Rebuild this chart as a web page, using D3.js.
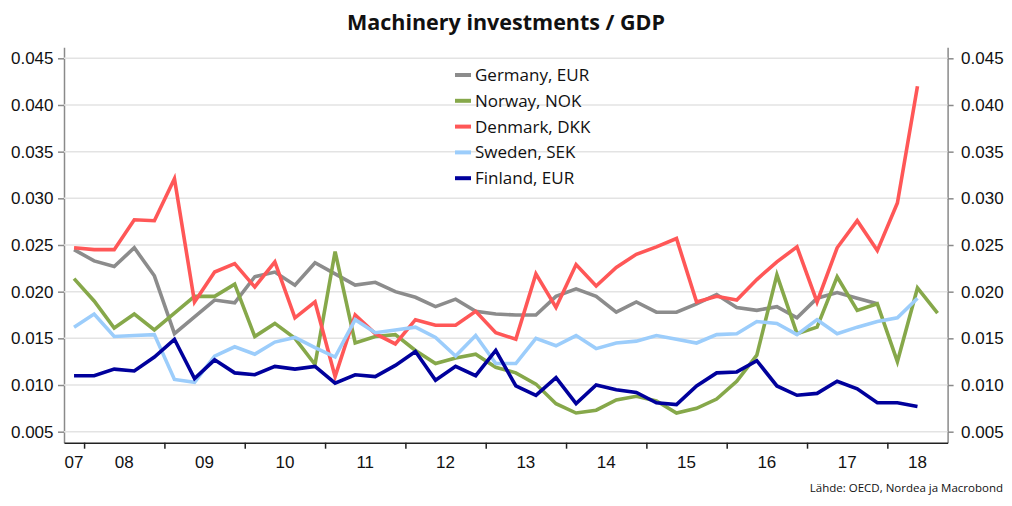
<!DOCTYPE html>
<html>
<head>
<meta charset="utf-8">
<script src="https://cdn.jsdelivr.net/npm/d3@7"></script>
<style>
  body { margin: 0; background: #fff; }
  svg { display: block; font-family: "Open Sans", sans-serif; }
  .grid line { stroke: #e3e3e3; stroke-width: 1.5px; }
  .axis--y path, .axis--y line { stroke: #8a8a8a; stroke-width: 1.5px; }
  .axis--x path, .axis--x line { stroke: #222; stroke-width: 1.5px; }
  .axis text { font-size: 17px; fill: #111; }
  .title { font-size: 21.5px; font-weight: 700; fill: #111; }
  .legend text { font-size: 17px; fill: #111; }
  .source { font-size: 11.5px; fill: #111; }
</style>
</head>
<body>
<svg id="chart" width="1012" height="506"></svg>
<script>
/* global d3 */
const WIDTH = 1012;
const HEIGHT = 506;
const MARGIN = { top: 47.3, bottom: 63.3, left: 64, right: 64.4 };
const FONT_SIZE = 17;

// first quarter on the chart is 2007 Q4, one value per quarter
const firstYear = 2007;
const firstQuarter = 4;
const yearLabels = ['07', '08', '09', '10', '11', '12', '13', '14', '15', '16', '17', '18'];
const yTicks = [0.005, 0.010, 0.015, 0.020, 0.025, 0.030, 0.035, 0.040, 0.045];

const germany = [0.0245, 0.0233, 0.0227, 0.0247, 0.0217, 0.0155, 0.0173, 0.0191, 0.0188, 0.0216,
  0.0221, 0.0207, 0.0231, 0.0219, 0.0207, 0.0210, 0.0200, 0.0194, 0.0184, 0.0192,
  0.0179, 0.0176, 0.0175, 0.0175, 0.0195, 0.0203, 0.0195, 0.0178, 0.0189, 0.0178,
  0.0178, 0.0187, 0.0197, 0.0183, 0.0180, 0.0184, 0.0172, 0.0193, 0.0199, 0.0193, 0.0187];
const norway = [0.0214, 0.0190, 0.0161, 0.0176, 0.0159, 0.0177, 0.0195, 0.0195, 0.0208, 0.0152,
  0.0166, 0.0150, 0.0122, 0.0243, 0.0145, 0.0152, 0.0154, 0.0137, 0.0123, 0.0129,
  0.0133, 0.0119, 0.0113, 0.0101, 0.0080, 0.0070, 0.0073, 0.0084, 0.0088, 0.0083,
  0.0070, 0.0075, 0.0085, 0.0104, 0.0132, 0.0218, 0.0155, 0.0162, 0.0216, 0.0180,
  0.0187, 0.0125, 0.0204, 0.0177];
const denmark = [0.0247, 0.0245, 0.0245, 0.0277, 0.0276, 0.0321, 0.0189, 0.0221, 0.0230, 0.0205,
  0.0232, 0.0172, 0.0189, 0.0109, 0.0175, 0.0155, 0.0144, 0.0170, 0.0164, 0.0164,
  0.0179, 0.0156, 0.0149, 0.0219, 0.0183, 0.0229, 0.0206, 0.0226, 0.0240, 0.0248,
  0.0257, 0.0189, 0.0195, 0.0191, 0.0213, 0.0232, 0.0248, 0.0189, 0.0247, 0.0276,
  0.0244, 0.0295, 0.0420];
const sweden = [0.0162, 0.0176, 0.0152, 0.0153, 0.0154, 0.0106, 0.0103, 0.0131, 0.0141, 0.0133,
  0.0146, 0.0151, 0.0140, 0.0130, 0.0170, 0.0156, 0.0159, 0.0162, 0.0151, 0.0131,
  0.0153, 0.0123, 0.0123, 0.0150, 0.0142, 0.0153, 0.0139, 0.0145, 0.0147, 0.0153,
  0.0149, 0.0145, 0.0154, 0.0155, 0.0168, 0.0166, 0.0154, 0.0170, 0.0155, 0.0162,
  0.0168, 0.0172, 0.0193];
const finland = [0.0110, 0.0110, 0.0117, 0.0115, 0.0130, 0.0149, 0.0107, 0.0127, 0.0113, 0.0111,
  0.0120, 0.0117, 0.0120, 0.0102, 0.0111, 0.0109, 0.0121, 0.0136, 0.0105, 0.0120,
  0.0110, 0.0137, 0.0099, 0.0089, 0.0108, 0.0080, 0.0100, 0.0095, 0.0092, 0.0081,
  0.0079, 0.0099, 0.0113, 0.0114, 0.0126, 0.0099, 0.0089, 0.0091, 0.0104, 0.0096,
  0.0081, 0.0081, 0.0077];

const seriesNames = ['Germany, EUR', 'Norway, NOK', 'Denmark, DKK', 'Sweden, SEK', 'Finland, EUR'];
const seriesValues = [germany, norway, denmark, sweden, finland];
const palette = [
  '#8c8c8c', // GREY - GERMANY
  '#86a84a', // OLIVE GREEN - NORWAY
  '#ff5757', // RED - DENMARK
  '#9ccdfb', // LIGHT BLUE - SWEDEN
  '#00009c'  // NAVY - FINLAND
];

const width = WIDTH - MARGIN.left - MARGIN.right;
const height = HEIGHT - MARGIN.top - MARGIN.bottom;

const $svg = d3.select('#chart');
const $gAxis = $svg.append('g').attr('class', 'g-axis');
const $gVis = $svg.append('g').attr('class', 'g-vis')
  .attr('transform', `translate(${MARGIN.left},${MARGIN.top})`);

// quarter i sits in the middle of its quarter on a decimal-year axis
function quarterTime(i) {
  const q = firstQuarter - 1 + i;
  return firstYear + q / 4 + 0.125;
}

const startTime = firstYear + (firstQuarter - 1) / 4;
const endTime = startTime + d3.max(seriesValues, s => s.length) / 4;

const scaleX = d3.scaleLinear().domain([startTime, endTime]).range([0, width]);
const scaleY = d3.scaleLinear().domain([0.00382, 0.04618]).range([height, 0]);
const scaleColour = d3.scaleOrdinal().domain(seriesNames).range(palette);

function drawAxes() {
  // gridlines
  $gVis.append('g')
    .attr('class', 'grid')
    .selectAll('line')
    .data(yTicks)
    .join('line')
    .attr('x1', 0)
    .attr('x2', width)
    .attr('y1', d => scaleY(d))
    .attr('y2', d => scaleY(d));

  const axisLeft = d3.axisLeft(scaleY)
    .tickValues(yTicks)
    .tickSize(6)
    .tickPadding(FONT_SIZE / 2 - 4)
    .tickSizeOuter(0)
    .tickFormat(d3.format('.3f'));

  $gAxis.append('g')
    .attr('class', 'axis axis--y')
    .attr('transform', `translate(${MARGIN.left},${MARGIN.top})`)
    .call(axisLeft);

  const axisRight = d3.axisRight(scaleY)
    .tickValues(yTicks)
    .tickSize(6)
    .tickPadding(FONT_SIZE / 2 - 1)
    .tickSizeOuter(0)
    .tickFormat(d3.format('.3f'));

  $gAxis.append('g')
    .attr('class', 'axis axis--y')
    .attr('transform', `translate(${MARGIN.left + width},${MARGIN.top})`)
    .call(axisRight);

  const yearStarts = d3.range(Math.ceil(startTime), Math.floor(endTime) + 1);

  const axisBottom = d3.axisBottom(scaleX)
    .tickValues(yearStarts)
    .tickSize(6)
    .tickSizeOuter(0)
    .tickFormat('');

  const $x = $gAxis.append('g')
    .attr('class', 'axis axis--x')
    .attr('transform', `translate(${MARGIN.left},${MARGIN.top + height})`)
    .call(axisBottom);

  // year labels sit in the middle of the visible part of each year
  $x.selectAll('text.year')
    .data(yearLabels)
    .join('text')
    .attr('class', 'year')
    .attr('x', (d, i) => {
      const y0 = Math.max(firstYear + i, startTime);
      const y1 = Math.min(firstYear + i + 1, endTime);
      return scaleX((y0 + y1) / 2);
    })
    .attr('y', 25)
    .attr('text-anchor', 'middle')
    .text(d => d);
}

function drawLines() {
  const line = d3.line()
    .x((d, i) => scaleX(quarterTime(i)))
    .y(d => scaleY(d));

  $gVis.selectAll('path.series')
    .data(seriesNames)
    .join('path')
    .attr('class', 'series')
    .attr('fill', 'none')
    .attr('stroke', d => scaleColour(d))
    .attr('stroke-width', 3.6)
    .attr('stroke-linejoin', 'miter')
    .attr('d', (d, i) => line(seriesValues[i]));
}

function drawText() {
  //TITLE
  $svg.append('text')
    .attr('class', 'title')
    .attr('x', WIDTH / 2)
    .attr('y', 30)
    .attr('text-anchor', 'middle')
    .text('Machinery investments / GDP');

  //LEGEND
  const $legend = $svg.append('g')
    .attr('class', 'legend')
    .attr('transform', 'translate(455,75)');

  const $item = $legend.selectAll('g')
    .data(seriesNames)
    .join('g')
    .attr('transform', (d, i) => `translate(0,${i * 25.8})`);

  $item.append('line')
    .attr('x1', 0)
    .attr('x2', 16)
    .attr('stroke', d => scaleColour(d))
    .attr('stroke-width', 4);

  $item.append('text')
    .attr('x', 20)
    .attr('dy', '0.35em')
    .text(d => d);

  //SOURCE
  $svg.append('text')
    .attr('class', 'source')
    .attr('x', 1003)
    .attr('y', 492)
    .attr('text-anchor', 'end')
    .text('Lähde: OECD, Nordea ja Macrobond');
}

drawAxes();
drawLines();
drawText();
</script>
</body>
</html>
